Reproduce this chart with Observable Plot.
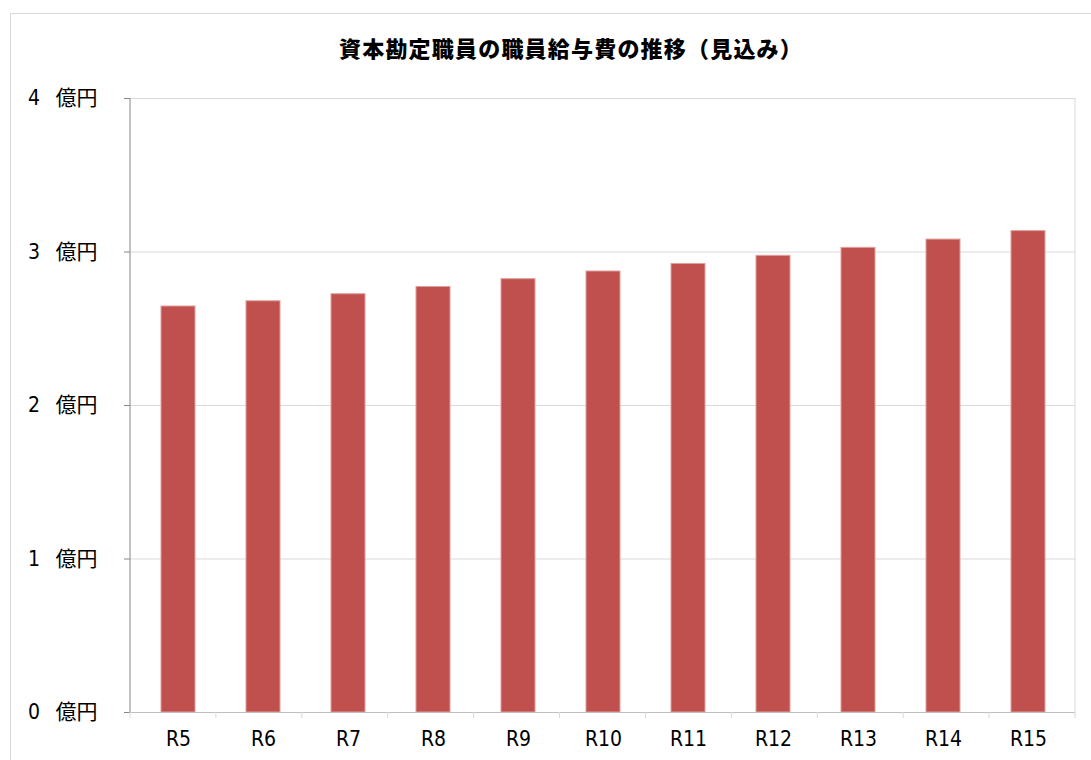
<!DOCTYPE html>
<html><head><meta charset="utf-8">
<script src="https://cdn.jsdelivr.net/npm/d3@7"></script>
<script src="https://cdn.jsdelivr.net/npm/@observablehq/plot@0.6"></script>
<style>
body{margin:0;background:#fff;font-family:"DejaVu Sans Condensed","Noto Sans CJK JP",sans-serif;}
#wrap{position:relative;width:1091px;height:760px;overflow:hidden;}
#frame{position:absolute;left:10px;top:13px;width:1200px;height:800px;border:1px solid #d9d9d9;box-sizing:border-box;}
#title{position:relative;height:60px;width:1142px;text-align:center;font-weight:900;font-size:22px;line-height:22px;padding-top:36px;box-sizing:border-box;color:#000;font-family:"Noto Sans CJK JP",sans-serif;letter-spacing:1.2px;}
#chart{position:relative;}
</style></head>
<body>
<div id="wrap">
<div id="frame"></div>
<div id="title">資本勘定職員の職員給与費の推移（見込み）</div>
<div id="chart"></div>
</div>
<script>
const categories = ["R5","R6","R7","R8","R9","R10","R11","R12","R13","R14","R15"];
const values = [2.645,2.679,2.725,2.772,2.823,2.873,2.922,2.975,3.027,3.081,3.136];
const yTicks = [0,1,2,3,4];
const unit = "億円";

const data = categories.map((c,i)=>({cat:c, v:values[i]}));
const pad = 0.6;

const plot = Plot.plot({
  width:1091, height:700,
  marginTop:38, marginBottom:48, marginLeft:130, marginRight:16,
  style:{fontFamily:'"DejaVu Sans Condensed","Noto Sans CJK JP",sans-serif', fontSize:"21px", color:"#000", background:"transparent"},
  x:{domain:categories, paddingInner:pad, paddingOuter:pad/2, align:0.5, label:null},
  y:{domain:[0,4], label:null},
  marks:[
    Plot.gridY(yTicks,{stroke:"#d9d9d9", strokeOpacity:1}),
    Plot.barY(data,{x:"cat", y:"v", fill:"#C0504D", stroke:"#e0a09e", strokeWidth:1}),
    Plot.axisY(yTicks,{tickSize:6, tickPadding:27, stroke:"#868686", tickFormat:d=>d+"\u2002 "+unit, fontSize:21}),
    Plot.ruleY([0],{stroke:"#bfbfbf"}),
    Plot.axisX({tickSize:0, tickPadding:19, fontSize:21})
  ]
});
document.getElementById("chart").appendChild(plot);

// axis line, right border and category boundary ticks from the library's scales
const xs = plot.scale("x"), ys = plot.scale("y");
const svg = d3.select(plot);
const step = (xs.range[1]-xs.range[0])/categories.length;
const y0 = ys.apply(0), y4 = ys.apply(4);
svg.append("line").attr("x1",xs.range[0]).attr("x2",xs.range[0]).attr("y1",y4).attr("y2",y0).attr("stroke","#868686");
svg.append("line").attr("x1",xs.range[1]).attr("x2",xs.range[1]).attr("y1",y4).attr("y2",y0).attr("stroke","#d9d9d9");
for(let i=0;i<=categories.length;i++){
  const x = xs.range[0]+i*step;
  svg.append("line").attr("x1",x).attr("x2",x).attr("y1",y0).attr("y2",y0+6).attr("stroke","#d9d9d9");
}
</script>
</body></html>
